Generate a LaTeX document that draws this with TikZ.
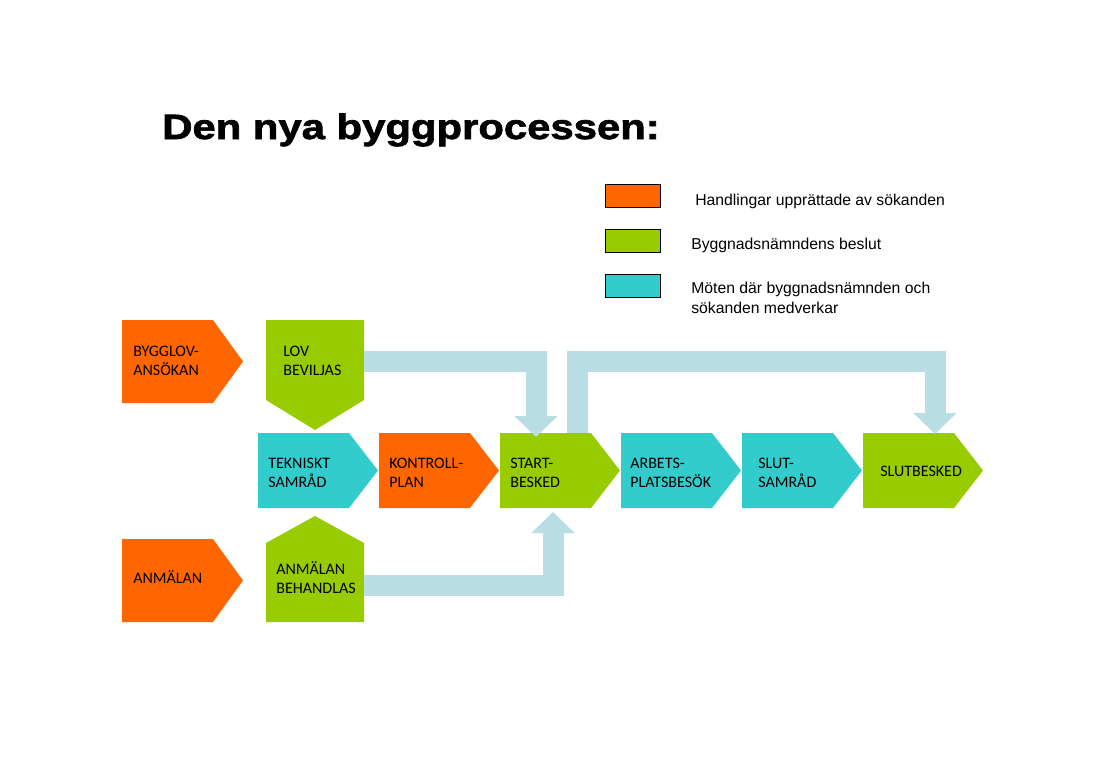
\documentclass[tikz,border=0pt]{standalone}
\usepackage{fontspec}
\setmainfont{Carlito}
\newfontfamily\legendfont{Liberation Sans}
\newfontfamily\titlefont[FakeStretch=1.19,FakeBold=2]{Liberation Sans Bold}
\usetikzlibrary{arrows.meta}
\definecolor{sokorange}{HTML}{FF6600}
\definecolor{beslutgreen}{HTML}{99CC00}
\definecolor{motesteal}{HTML}{33CCCC}
\definecolor{bandblue}{HTML}{B8DEE3}
% pentagon pointing right: (top left), body width, height, tip length
\def\pentright[#1](#2,#3)(#4:#5:#6){\fill[#1] (#2,#3) -- ++(#4,0) -- ++(#6,#5/2) -- ++(-#6,#5/2) -- ++(-#4,0) -- cycle;}

\tikzset{
  boxtext/.style={anchor=west, inner sep=0pt, align=left, font=\fontsize{11.4}{13.4}\selectfont},
  legendtext/.style={anchor=base west, inner sep=0pt, align=left, font=\legendfont\fontsize{11.2}{14.2}\selectfont},
  legendbox/.style={draw=black, line width=0.6pt},
  band/.style={draw=bandblue, line width=0.525cm, line join=miter, -{Triangle[length=0pt 1, width=0pt 2]}}
}

\begin{document}
\begin{tikzpicture}[x=0.025cm, y=-0.025cm]
		%%%%% CANVAS %%%%%
		\fill[white] (0,0) rectangle (1099,771);
		\useasboundingbox (0,0) rectangle (1099,771);
		
		\node[anchor=base west, inner sep=0pt, font=\titlefont\fontsize{25}{30}\selectfont] (title) at (162,139) {Den nya byggprocessen:};
		
		%%%%% LEGEND %%%%%
		\draw[legendbox, fill=sokorange] (605,184) rectangle (660,207);
		\draw[legendbox, fill=beslutgreen] (605,229) rectangle (660,252);
		\draw[legendbox, fill=motesteal] (605,274) rectangle (660,297);
		\node[legendtext] (leg1) at (695,205) {Handlingar upprättade av sökanden};
		\node[legendtext] (leg2) at (691,249) {Byggnadsnämndens beslut};
		\node[legendtext] (leg3) at (691,313) {Möten där byggnadsnämnden och\\sökanden medverkar};
		
		%%%%% LEFT COLUMN %%%%%
		\pentright[sokorange](122,320)(91:83:30);
		\pentright[sokorange](122,539)(91:83:30);
		\fill[beslutgreen] (266,320) -- (364,320) -- (364,400) -- (315,430) -- (266,400) -- cycle;
		\fill[beslutgreen] (266,622) -- (364,622) -- (364,543) -- (315,516) -- (266,543) -- cycle;
		
		%%%%% MAIN ROW %%%%%
		\pentright[motesteal](258,433)(91:75:29);
		\pentright[sokorange](379,433)(91:75:29);
		\pentright[beslutgreen](500,433)(91:75:29);
		\pentright[motesteal](621,433)(91:75:29);
		\pentright[motesteal](742,433)(91:75:29);
		\pentright[beslutgreen](863,433)(91:75:29);
		
		\node[boxtext] (bygglov) at (133,361) {BYGGLOV-\\ANSÖKAN};
		\node[boxtext] (lov) at (283,361) {LOV\\BEVILJAS};
		\node[boxtext] (anmalan) at (133,577) {ANMÄLAN};
		\node[boxtext] (behandlas) at (276,578) {ANMÄLAN\\BEHANDLAS};
		\node[boxtext] (tekniskt) at (268,472.5) {TEKNISKT\\SAMRÅD};
		\node[boxtext] (kontroll) at (389,472.5) {KONTROLL-\\PLAN};
		\node[boxtext] (start) at (510,472.5) {START-\\BESKED};
		\node[boxtext] (arbets) at (630,472.5) {ARBETS-\\PLATSBESÖK};
		\node[boxtext] (slut) at (758,472.5) {SLUT-\\SAMRÅD};
		\node[boxtext] (slutbesked) at (880,471) {SLUTBESKED};
		
		%%%%% BANDS %%%%%
		\coordinate (lovE) at (364,361);
		\coordinate (startN) at (536,437);
		\coordinate (startS) at (577.5,433);
		\coordinate (bandtop) at (0,361);
		\coordinate (slutN) at (935,434);
		\coordinate (behE) at (364,585);
		\coordinate (startB) at (553,512);
		
		\draw[band] (lovE) -| (startN);
		\draw[band] (startS) -- (startS |- bandtop) -| (slutN);
		\draw[band] (behE) -| (startB);
		
		%%%%% END %%%%%
	\end{tikzpicture}
\end{document}
